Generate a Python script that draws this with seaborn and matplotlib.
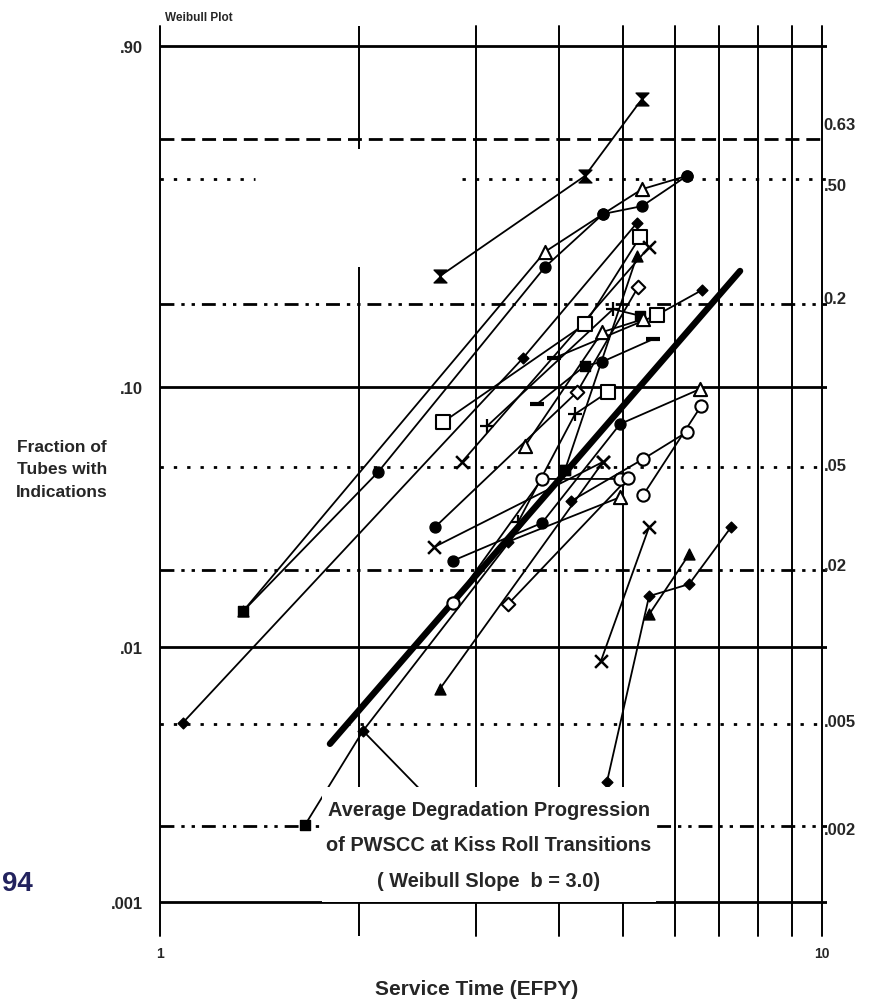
import numpy as np
import pandas as pd
import matplotlib
matplotlib.use("Agg")
import matplotlib.pyplot as plt
import matplotlib.transforms as mtransforms
from matplotlib.path import Path
from matplotlib.patches import Rectangle
from matplotlib.ticker import NullLocator
import seaborn as sns

sns.set_theme(style="white")
plt.rcParams["font.family"] = ["Liberation Sans", "DejaVu Sans"]
plt.rcParams["font.weight"] = "bold"

# ---- inspection histories: service time (EFPY), fraction of tubes, marker code per point
s01_x = [2.648, 4.385, 5.348]; s01_f = [0.250, 0.509, 0.760]; s01_m = ["hg", "hg", "hg"]
s02_x = [1.335, 2.135, 3.815, 4.670, 5.348, 6.250]; s02_f = [0.0138, 0.0477, 0.268, 0.396, 0.418, 0.509]; s02_m = ["s", "o", "o", "o", "o", "o"]
s03_x = [1.335, 3.815, 4.670, 5.348, 6.250]; s03_f = [0.0138, 0.301, 0.396, 0.468, 0.509]; s03_m = ["^", "^o", "o", "^o", "o"]
s04_x = [1.083, 3.534, 5.255]; s04_f = [0.00506, 0.128, 0.372]; s04_m = ["D", "D", "D"]
s05_x = [2.676, 4.385, 5.311]; s05_f = [0.0739, 0.170, 0.336]; s05_m = ["so", "so", "so"]
s06_x = [4.090, 5.255]; s06_f = [0.0486, 0.292]; s06_m = ["s", "^"]
s07_x = [2.859, 5.480]; s07_f = [0.0522, 0.312]; s07_m = ["x", "x"]
s08_x = [3.119, 4.835, 5.311]; s08_f = [0.0714, 0.192, 0.182]; s08_m = ["+", "+", "s"]
s09_x = [3.474, 4.236, 4.751]; s09_f = [0.0306, 0.0793, 0.0959]; s09_m = ["+", "+", "so"]
s10_x = [2.603, 4.266, 5.274]; s10_f = [0.0293, 0.0959, 0.229]; s10_m = ["o", "Do", "Do"]
s11_x = [3.710, 4.385, 4.653, 5.555]; s11_f = [0.0864, 0.120, 0.124, 0.150]; s11_m = ["_", "s", "o", "_"]
s12_x = [3.937, 5.630, 6.590]; s12_f = [0.128, 0.183, 0.224]; s12_m = ["_", "so", "D"]
s13_x = [3.559, 4.653, 5.367]; s13_f = [0.060, 0.159, 0.177]; s13_m = ["^o", "^o", "^o"]
s14_x = [2.771, 3.776, 4.954, 6.544]; s14_f = [0.0217, 0.0304, 0.0727, 0.0984]; s14_m = ["o", "o", "o", "^o"]
s15_x = [2.771, 3.776, 4.954]; s15_f = [0.0149, 0.0449, 0.0449]; s15_m = ["oo", "oo", "oo"]
s16_x = [5.367, 6.567]; s16_f = [0.0389, 0.085]; s16_m = ["oo", "oo"]
s17_x = [4.177, 5.367, 6.250]; s17_f = [0.0369, 0.0535, 0.0678]; s17_m = ["D", "oo", "oo"]
s18_x = [4.637, 5.480]; s18_f = [0.00885, 0.0293]; s18_m = ["x", "x"]
s19_x = [5.480, 6.300]; s19_f = [0.0134, 0.0230]; s19_m = ["^", "^"]
s20_x = [4.734, 5.480, 6.300, 7.290]; s20_f = [0.00297, 0.0158, 0.0176, 0.0293]; s20_m = ["D", "D", "D", "D"]
s21_x = [2.594, 4.670]; s21_f = [0.0245, 0.0522]; s21_m = ["x", "x"]
s22_x = [2.648, 4.670]; s22_f = [0.00687, 0.0522]; s22_m = ["^", "x"]
s23_x = [2.026, 4.090]; s23_f = [0.0047, 0.0486]; s23_m = ["D", "s"]
s24_x = [3.355, 4.954]; s24_f = [0.0257, 0.0382]; s24_m = ["D", "^o"]
s25_x = [3.355, 5.093]; s25_f = [0.0147, 0.0452]; s25_m = ["Do", "oo"]
s26_x = [1.656]; s26_f = [0.00201]; s26_m = ["s"]

# average progression line (Weibull slope b = 3.0)
avg_x = [1.806, 7.52]
avg_f = [0.00418, 0.26]

left_vals = [0.90, 0.10, 0.01, 0.001]
left_labels = [".90", ".10", ".01", ".001"]
right_vals = [0.63, 0.50, 0.20, 0.05, 0.02, 0.005, 0.002]
right_labels = ["0.63", ".50", "0.2", ".05", ".02", ".005", ".002"]
x_ticks = [1, 10]
x_tick_labels = ["1", "10"]

series = [
    (s01_x, s01_f, s01_m), (s02_x, s02_f, s02_m), (s03_x, s03_f, s03_m),
    (s04_x, s04_f, s04_m), (s05_x, s05_f, s05_m), (s06_x, s06_f, s06_m),
    (s07_x, s07_f, s07_m), (s08_x, s08_f, s08_m), (s09_x, s09_f, s09_m),
    (s10_x, s10_f, s10_m), (s11_x, s11_f, s11_m), (s12_x, s12_f, s12_m),
    (s13_x, s13_f, s13_m), (s14_x, s14_f, s14_m), (s15_x, s15_f, s15_m),
    (s16_x, s16_f, s16_m), (s17_x, s17_f, s17_m), (s18_x, s18_f, s18_m),
    (s19_x, s19_f, s19_m), (s20_x, s20_f, s20_m), (s21_x, s21_f, s21_m),
    (s22_x, s22_f, s22_m), (s23_x, s23_f, s23_m), (s24_x, s24_f, s24_m),
    (s25_x, s25_f, s25_m), (s26_x, s26_f, s26_m),
]

rows = []
for i, (xs, fs, ms) in enumerate(series):
    for order, (x, f, m) in enumerate(zip(xs, fs, ms)):
        rows.append({"series": i, "order": order, "efpy": x, "fraction": f, "mk": m})
df = pd.DataFrame(rows)


# Weibull probability axis: ln(-ln(1 - F))
def weibull_fwd(f):
    f = np.clip(np.asarray(f, dtype=float), 1e-12, 1 - 1e-12)
    return np.log(-np.log1p(-f))


def weibull_inv(w):
    return -np.expm1(-np.exp(np.asarray(w, dtype=float)))


hourglass = Path([(-1, 1), (1, 1), (-1, -1), (1, -1), (-1, 1)],
                 [Path.MOVETO, Path.LINETO, Path.LINETO, Path.LINETO, Path.CLOSEPOLY])

marker_styles = {
    "o": dict(marker="o", s=62, color="black", edgecolor="black", linewidth=1.0),
    "oo": dict(marker="o", s=78, color="white", edgecolor="black", linewidth=1.5),
    "s": dict(marker="s", s=55, color="black", edgecolor="black", linewidth=1.0),
    "so": dict(marker="s", s=90, color="white", edgecolor="black", linewidth=1.5),
    "^": dict(marker="^", s=62, color="black", edgecolor="black", linewidth=1.0),
    "^o": dict(marker="^", s=90, color="white", edgecolor="black", linewidth=1.5),
    "D": dict(marker="D", s=30, color="black", edgecolor="black", linewidth=1.0),
    "Do": dict(marker="D", s=48, color="white", edgecolor="black", linewidth=1.5),
    "x": dict(marker="x", s=85, color="black", linewidth=1.8),
    "+": dict(marker="+", s=110, color="black", linewidth=1.6),
    "_": dict(marker="_", s=110, color="black", linewidth=3.0),
    "hg": dict(marker=hourglass, s=85, color="black", edgecolor="black", linewidth=1.0),
}

W, H = 870, 1004
fig = plt.figure(figsize=(W / 100, H / 100), dpi=100)
ax = fig.add_axes([160 / W, 67 / H, 667 / W, 910 / H])

# data lines
sns.lineplot(data=df, x="efpy", y="fraction", units="series", estimator=None,
             sort=False, color="black", lw=1.3, ax=ax, legend=False, zorder=2)
# average progression
sns.lineplot(x=avg_x, y=avg_f, color="black", lw=4.6, ax=ax, legend=False,
             zorder=2.5, solid_capstyle="round")

for code, kw in marker_styles.items():
    sub = df[df["mk"] == code]
    if sub.empty:
        continue
    sns.scatterplot(data=sub, x="efpy", y="fraction", ax=ax, legend=False,
                    zorder=3, **kw)

ax.set_xscale("log")
ax.set_yscale("function", functions=(weibull_fwd, weibull_inv))
ax.set_xlim(1, 10.175)
ax.set_ylim(0.000737, 0.9366)

for sp in ax.spines.values():
    sp.set_visible(False)
ax.grid(False)

# vertical rulings
for t in range(1, 11):
    if t == 2:
        ax.vlines(t, 0.000737, 0.268, color="black", lw=1.4, zorder=1)
        ax.vlines(t, 0.596, 0.9366, color="black", lw=1.4, zorder=1)
    else:
        ax.axvline(t, color="black", lw=1.4, zorder=1, clip_on=False)

# horizontal rulings
for v in [0.90, 0.10, 0.01, 0.001]:
    ax.axhline(v, color="black", lw=2.0, zorder=1)
ax.axhline(0.63, color="black", lw=2.0, ls=(0, (5, 2.5)), zorder=1)
dotted = (0, (1.2, 3.6))
ax.hlines(0.50, 1.0, 1.392, color="black", lw=2.0, linestyles=[dotted], zorder=1)
ax.hlines(0.50, 2.86, 10.175, color="black", lw=2.0, linestyles=[dotted], zorder=1)
for v in [0.05, 0.005]:
    ax.axhline(v, color="black", lw=2.0, ls=dotted, zorder=1)
dashdot = (0, (5, 2.5, 1.2, 2.5, 1.2, 2.5))
for v in [0.2, 0.02, 0.002]:
    ax.axhline(v, color="black", lw=2.0, ls=dashdot, zorder=1)

# ticks and labels
ax.set_xticks(x_ticks, labels=x_tick_labels)
ax.xaxis.set_minor_locator(NullLocator())
ax.set_yticks(left_vals, labels=left_labels)
ax.yaxis.set_minor_locator(NullLocator())
ax.tick_params(axis="x", length=0, pad=7, labelsize=10)
ax.tick_params(axis="y", length=0, pad=12, labelsize=12)
for lab in ax.get_xticklabels() + ax.get_yticklabels():
    lab.set_fontweight("bold")
ax.set_xlabel("")
ax.set_ylabel("")

blend = mtransforms.blended_transform_factory(ax.transAxes, ax.transData)
right_dy = [10, -5, 4, 1, 3, 1.5, -3]
for v, lab, dy in zip(right_vals, right_labels, right_dy):
    ax.annotate(lab, xy=(0.995, v), xycoords=blend, xytext=(0, dy),
                textcoords="offset points", ha="left", va="center",
                fontsize=12, fontweight="bold", annotation_clip=False)

# annotation with leader lines to the average progression
apex = (s23_x[0], s23_f[0])
ax.annotate("", xy=apex, xytext=(s26_x[0], s26_f[0]),
            arrowprops=dict(arrowstyle="-", lw=1.3, color="black", shrinkA=0, shrinkB=0),
            zorder=2)
ax.annotate("", xy=apex, xytext=(2.53, 0.0026),
            arrowprops=dict(arrowstyle="-", lw=1.3, color="black", shrinkA=0, shrinkB=0),
            zorder=2)
ax.add_patch(Rectangle((0.2429, 0.0374), 0.5007, 0.1264, transform=ax.transAxes,
                       facecolor="white", edgecolor="none", zorder=4))
ax.text(0.4933, 0.100,
        "Average Degradation Progression\nof PWSCC at Kiss Roll Transitions\n( Weibull Slope  b = 3.0)",
        transform=ax.transAxes, ha="center", va="center", multialignment="center",
        fontsize=14.4, fontweight="bold", linespacing=2.1, zorder=5)

# figure texts
fig.text(165 / W, 1 - 18 / H, "Weibull Plot", fontsize=8.5, fontweight="bold",
         ha="left", va="center")
fig.text(62 / W, 1 - 470 / H, "Fraction of\nTubes with\nIndications", fontsize=12.5,
         fontweight="bold", ha="center", va="center", multialignment="center",
         linespacing=1.6)
fig.text(477 / W, 1 - 990 / H, "Service Time (EFPY)", fontsize=15, fontweight="bold",
         ha="center", va="center")
fig.text(2 / W, 1 - 884 / H, "94", fontsize=20, fontweight="bold", color="#23235e",
         ha="left", va="center")

fig.savefig("out.png", dpi=100, facecolor="white")
